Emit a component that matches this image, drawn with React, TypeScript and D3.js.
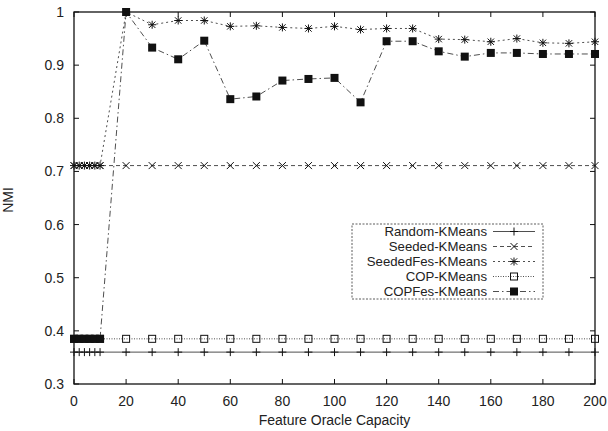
import React from "react";
import * as d3 from "d3";

const xValues = [0, 2, 4, 6, 8, 10, 20, 30, 40, 50, 60, 70, 80, 90, 100, 110, 120, 130, 140, 150, 160, 170, 180, 190, 200];
const randomKMeans = [0.36, 0.36, 0.36, 0.36, 0.36, 0.36, 0.36, 0.36, 0.36, 0.36, 0.36, 0.36, 0.36, 0.36, 0.36, 0.36, 0.36, 0.36, 0.36, 0.36, 0.36, 0.36, 0.36, 0.36, 0.36];
const seededKMeans = [0.711, 0.711, 0.711, 0.711, 0.711, 0.711, 0.711, 0.711, 0.711, 0.711, 0.711, 0.711, 0.711, 0.711, 0.711, 0.711, 0.711, 0.711, 0.711, 0.711, 0.711, 0.711, 0.711, 0.711, 0.711];
const seededFesKMeans = [0.711, 0.711, 0.711, 0.711, 0.711, 0.711, 1.0, 0.976, 0.984, 0.984, 0.973, 0.974, 0.971, 0.969, 0.973, 0.967, 0.969, 0.969, 0.949, 0.948, 0.944, 0.95, 0.942, 0.941, 0.944];
const copKMeans = [0.385, 0.385, 0.385, 0.385, 0.385, 0.385, 0.385, 0.385, 0.385, 0.385, 0.385, 0.385, 0.385, 0.385, 0.385, 0.385, 0.385, 0.385, 0.385, 0.385, 0.385, 0.385, 0.385, 0.385, 0.385];
const copFesKMeans = [0.385, 0.385, 0.385, 0.385, 0.385, 0.385, 1.0, 0.933, 0.911, 0.946, 0.836, 0.841, 0.871, 0.874, 0.876, 0.83, 0.945, 0.945, 0.926, 0.916, 0.923, 0.923, 0.921, 0.921, 0.921];

const seriesNames = ["Random-KMeans", "Seeded-KMeans", "SeededFes-KMeans", "COP-KMeans", "COPFes-KMeans"];
const xTicks = [0, 20, 40, 60, 80, 100, 120, 140, 160, 180, 200];
const yTicks = [0.3, 0.4, 0.5, 0.6, 0.7, 0.8, 0.9, 1];
const xTitle = "Feature Oracle Capacity";
const yTitle = "NMI";

const W = 608, H = 431;
const L = 74, R = 595, T = 12, B = 384;
const FONT = "'Liberation Sans', Arial, Helvetica, sans-serif";

const x = d3.scaleLinear().domain([0, 200]).range([L, R]);
const y = d3.scaleLinear().domain([0.3, 1]).range([B, T]);

type MarkerKind = "plus" | "cross" | "star" | "square" | "filled";
const styles: { dash: string; marker: MarkerKind }[] = [
  { dash: "", marker: "plus" },
  { dash: "4,3", marker: "cross" },
  { dash: "2,3", marker: "star" },
  { dash: "1,1.5", marker: "square" },
  { dash: "6,3,1.5,3", marker: "filled" },
];
const seriesData = [randomKMeans, seededKMeans, seededFesKMeans, copKMeans, copFesKMeans];

function Marker({ kind, cx, cy }: { kind: MarkerKind; cx: number; cy: number }) {
  const s = 4;
  const st = { stroke: "#111", strokeWidth: 1, fill: "none" };
  if (kind === "plus")
    return <path d={`M${cx - s},${cy}H${cx + s}M${cx},${cy - s}V${cy + s}`} {...st} />;
  if (kind === "cross")
    return <path d={`M${cx - 3.5},${cy - 3.5}L${cx + 3.5},${cy + 3.5}M${cx - 3.5},${cy + 3.5}L${cx + 3.5},${cy - 3.5}`} {...st} />;
  if (kind === "star")
    return <path d={`M${cx - s},${cy}H${cx + s}M${cx},${cy - s}V${cy + s}M${cx - 3.2},${cy - 3.2}L${cx + 3.2},${cy + 3.2}M${cx - 3.2},${cy + 3.2}L${cx + 3.2},${cy - 3.2}`} {...st} />;
  if (kind === "square")
    return <rect x={cx - 3.5} y={cy - 3.5} width={7} height={7} {...st} />;
  return <rect x={cx - 4} y={cy - 4} width={8} height={8} fill="#111" />;
}

export default function App() {
  const line = d3.line<number>().x((_, i) => x(xValues[i])).y((v) => y(v));
  const legendTextX = 487;
  const legendLineX1 = 493, legendLineX2 = 535, legendMarkX = 514;
  const legendRowY = (i: number) => 231.5 + i * 15;
  return (
    <svg width={W} height={H} style={{ position: "absolute", left: 0, top: 0, background: "#fff" }} fontFamily={FONT}>
      <rect width={W} height={H} fill="#fff" />
      {/* series */}
      {seriesData.map((vals, si) => (
        <g key={si}>
          <path d={line(vals) || ""} fill="none" stroke="#222" strokeWidth={0.8} strokeDasharray={styles[si].dash || undefined} />
          {vals.map((v, i) => (
            <Marker key={i} kind={styles[si].marker} cx={x(xValues[i])} cy={y(v)} />
          ))}
        </g>
      ))}
      {/* frame */}
      <rect x={L} y={T} width={R - L} height={B - T} fill="none" stroke="#111" strokeWidth={1.3} />
      {xTicks.map((t) => (
        <g key={"x" + t}>
          <line x1={x(t)} x2={x(t)} y1={B} y2={B - 5} stroke="#111" strokeWidth={1} />
          <line x1={x(t)} x2={x(t)} y1={T} y2={T + 5} stroke="#111" strokeWidth={1} />
          <text x={x(t)} y={B + 22} fontSize={14} textAnchor="middle" fill="#222">{t}</text>
        </g>
      ))}
      {yTicks.map((t) => (
        <g key={"y" + t}>
          <line x1={L} x2={L + 5} y1={y(t)} y2={y(t)} stroke="#111" strokeWidth={1} />
          <line x1={R} x2={R - 5} y1={y(t)} y2={y(t)} stroke="#111" strokeWidth={1} />
          <text x={L - 10} y={y(t) + 5} fontSize={14} textAnchor="end" fill="#222">{d3.format("~g")(t)}</text>
        </g>
      ))}
      <text x={(L + R) / 2} y={425} fontSize={14} textAnchor="middle" fill="#222">{xTitle}</text>
      <text transform={`translate(13,${(T + B) / 2 + 2}) rotate(-90)`} fontSize={14} textAnchor="middle" fill="#222">{yTitle}</text>
      {/* legend */}
      <rect x={352} y={224} width={191} height={75} fill="#fff" stroke="#333" strokeWidth={0.8} strokeDasharray="2,1.5" />
      {seriesNames.map((name, i) => (
        <g key={name}>
          <text x={legendTextX} y={legendRowY(i) + 4.5} fontSize={13.2} textAnchor="end" fill="#222">{name}</text>
          <line x1={legendLineX1} x2={legendLineX2} y1={legendRowY(i)} y2={legendRowY(i)} stroke="#222" strokeWidth={0.8} strokeDasharray={styles[i].dash || undefined} />
          <Marker kind={styles[i].marker} cx={legendMarkX} cy={legendRowY(i)} />
        </g>
      ))}
    </svg>
  );
}
